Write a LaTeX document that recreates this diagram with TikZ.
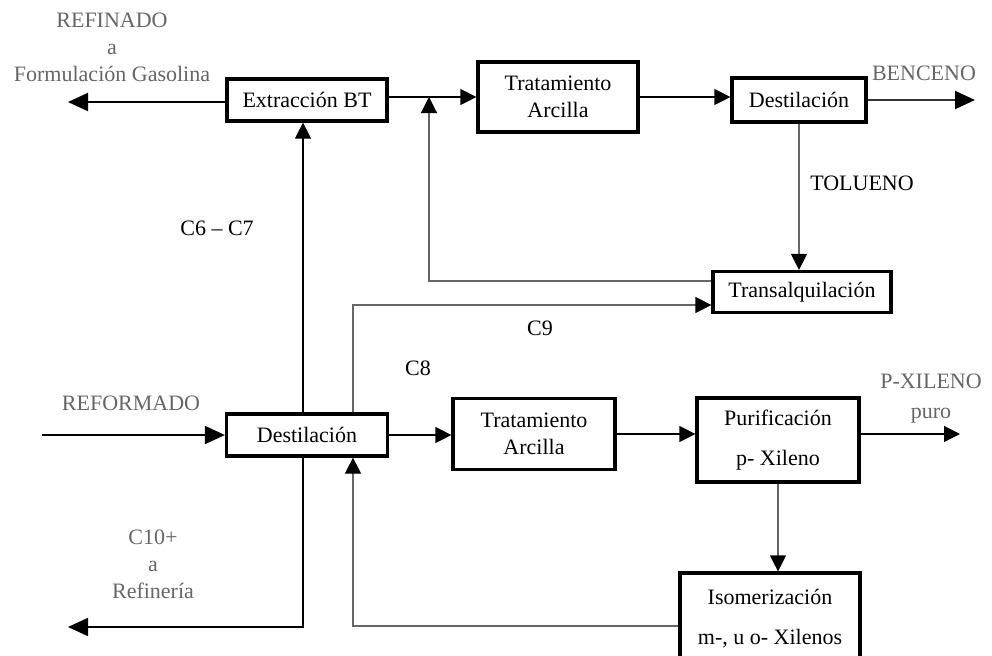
\documentclass[tikz,border=0pt]{standalone}
\usepackage{fontspec}
\setmainfont{Liberation Serif}
\usetikzlibrary{arrows.meta}

\begin{document}
\begin{tikzpicture}[x=0.5pt, y=-0.5pt,
			>={Triangle[length=8pt,width=8pt,color=black]},
			line/.style={line width=0.6pt},
			grayline/.style={line width=0.6pt, draw=gray!80!black},
			stream/.style={line width=1pt, -{Triangle[length=10pt,width=9pt,color=black]}}]
		\tikzstyle{every node}=[font=\fontsize{11}{13.5}\selectfont, inner sep=0pt]
		\tikzstyle{box}=[draw, line width=1.6pt, align=center]
		\useasboundingbox (0,0) rectangle (992,655);

			% process units
			\node[box, minimum width=80pt, minimum height=21pt] (ext) at (307,100) {Extracción BT};
			\node[box, minimum width=80pt, minimum height=35pt] (trat1) at (558,97) {Tratamiento\\Arcilla};
			\node[box, minimum width=67pt, minimum height=22pt] (dest1) at (799,100) {Destilación};
			\node[box, minimum width=89pt, minimum height=20.5pt] (trans) at (802,292) {Transalquilación};
			\node[box, minimum width=80.5pt, minimum height=21pt] (dest2) at (307,435) {Destilación};
			\node[box, minimum width=81pt, minimum height=35.5pt] (trat2) at (534,434) {Tratamiento\\Arcilla};
			\node[box, minimum width=81pt, minimum height=42pt] (puri) at (778,440) {Purificación\\[6.5pt]p- Xileno};
			\node[box, minimum width=90pt, minimum height=46pt] (iso) at (770,619) {Isomerización\\[6.5pt]m-, u o- Xilenos};

			% stream ends
			\coordinate (mix) at (429,97);
			\coordinate (refi) at (68,102);
			\coordinate (benc) at (975,100);
			\coordinate (ref) at (42,435);
			\coordinate (pxil) at (960,434);
			\coordinate (c10) at (68,627);

			\draw[line,->] ([yshift=1.5pt]ext.east) -- (trat1.west);
			\draw[line,->] (trat1.east) -- (trat1.east -| dest1.west);
			\draw[stream,draw=black!80] (dest1.east) -- (benc);
			\draw[grayline,->] (dest1.south) -- (dest1.south |- trans.north);
			\draw[grayline,->] ([yshift=5.5pt]trans.west) -| (mix);
			\draw[grayline,->] ([xshift=23pt]dest2.north) |- ([yshift=-6.5pt]trans.west);
			\draw[line,->] ([xshift=-2pt]dest2.north) -- ([xshift=-2pt]ext.south);
			\draw[stream] ([yshift=-1pt]ext.west) -- (refi);
			\draw[stream] (ref) -- (dest2.west);
			\draw[line,->] (dest2.east) -- (dest2.east -| trat2.west);
			\draw[line,->] (trat2.east) -- (trat2.east -| puri.west);
			\draw[line,->] ([yshift=3pt]puri.east) -- (pxil);
			\draw[grayline,->] (puri.south) -- (puri.south |- iso.north);
			\draw[grayline,->] ([yshift=-3.5pt]iso.west) -| ([xshift=23pt]dest2.south);
			\draw[stream, line width=0.8pt] ([xshift=-2pt]dest2.south) |- (c10);

			\begin{scope}[nodes = {text = gray!80!black, align = center}]
				\node (lrefi) at (112,47) {REFINADO\\a\\Formulación Gasolina};
				\node (lbenc) at (924,73) {BENCENO};
				\node (lref) at (131,403) {REFORMADO};
				\node (lc10) at (153,564) {C10+\\a\\Refinería};
				\node (lpx) at (931,399) {P-XILENO\\[1.5pt]puro};
			\end{scope}

			\node (lc67) at (217,228) {C6 -- C7};
			\node (ltol) at (862,183) {TOLUENO};
			\node (lc9) at (540,328) {C9};
			\node (lc8) at (418,368) {C8};

		\end{tikzpicture}
\end{document}
